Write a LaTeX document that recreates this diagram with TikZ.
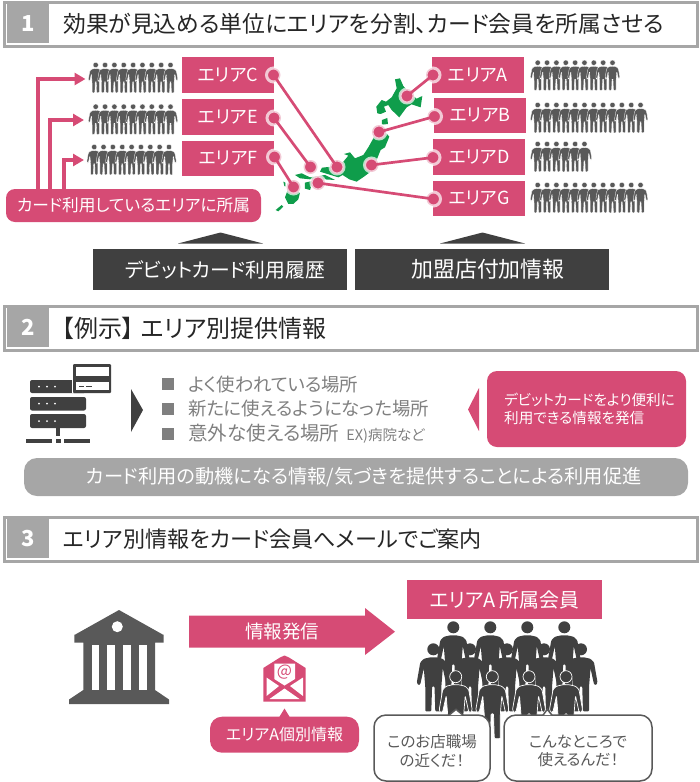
\documentclass[tikz,border=0pt]{standalone}
\usepackage{fontspec}
\setmainfont{Noto Sans CJK JP}[RawFeature=+palt]
\usepackage{xcolor}
\usepackage{tikz}
\usetikzlibrary{arrows.meta, positioning}

\definecolor{areaPink}{HTML}{D64B75}
\definecolor{mapGreen}{HTML}{0F9D4B}
\definecolor{barDark}{HTML}{404040}
\definecolor{iconGray}{HTML}{595959}
\definecolor{frameGray}{HTML}{A6A6A6}
\definecolor{textGray}{HTML}{7F7F7F}

\newcommand{\fsz}[1]{\fontsize{#1}{#1}\selectfont}
% Hàng người nhỏ: x đầu, y đầu, số người
\newcommand{\personrow}[3]{\foreach \i in {1,...,#3} \pic[fill=iconGray, draw=white, line width=.3pt, scale=.45] at ({#1+(\i-1)*9.35},#2) {person};}

\tikzset{
    person/.pic={
        \path[pic actions] (0,0) circle (6);
        \path[pic actions, rounded corners=1pt] (-3,8) -- (-9.5,9.5) -- (-13,13) -- (-16.5,33) -- (-15,36) -- (-13,35)
            -- (-9.5,19) -- (-8,38) -- (-8,62) -- (-2,62) -- (-1.2,37) -- (1.2,37) -- (2,62) -- (8,62) -- (8,38)
            -- (9.5,19) -- (13,35) -- (15,36) -- (16.5,33) -- (13,13) -- (9.5,9.5) -- (3,8) -- cycle;
    },
    headbox/.style={draw=frameGray, line width=3pt, minimum width=693pt, minimum height=44pt, inner sep=0pt},
    numbox/.style={fill=frameGray, text=white, minimum width=42pt, minimum height=39pt, inner sep=0pt, font=\fsz{22}\bfseries},
    headtext/.style={anchor=west, inner sep=0pt, text=black!85, font=\fsz{22.8}},
    areabox/.style={fill=areaPink, text=white, minimum width=92pt, minimum height=36pt, inner sep=0pt, font=\fsz{18}},
    mapdot/.style={circle, fill=areaPink, draw=white, draw opacity=.7, line width=3pt, minimum size=14pt, inner sep=0pt},
    mapline/.style={draw=areaPink, line width=2.7pt},
    belongarrow/.style={draw=areaPink, line width=4pt, -{Triangle[length=11pt, width=12pt]}},
    darkbar/.style={fill=barDark, text=white, minimum width=254pt, minimum height=41pt, inner sep=0pt},
    listmark/.style={fill=textGray, minimum size=12pt, inner sep=0pt},
    listtext/.style={anchor=west, inner sep=0pt, text=textGray, font=\fsz{18.4}},
    bubble/.style={draw=iconGray, line width=1.5pt, fill=white, rounded corners=12pt, inner sep=0pt, minimum height=66pt},
    bubbletext/.style={inner sep=0pt, text=iconGray, align=center, font=\fsz{15.5}},
}

\begin{document}
\begin{tikzpicture}[x=1pt, y=-1pt]
    \useasboundingbox (0,0) rectangle (700,782);

    % Tiêu đề 1
    \node[headbox] (head1) at (350.5,24) {};
    \node[numbox] (num1) at (28,23.5) {1};
    \node[headtext] (title1) at (63,24) {効果が見込める単位にエリアを分割、カード会員を所属させる};

    % Bản đồ
    \begin{scope}[shift={(260,60)}, scale=.3333, fill=mapGreen]
        \fill (405,58) -- (420,55) -- (430,78) -- (448,98) -- (470,116) -- (487,108) -- (482,142) -- (455,133) -- (440,142) -- (418,172) -- (395,150) -- (385,135) -- (372,140) -- (378,155) -- (362,162) -- (352,160) -- (349,140) -- (365,120) -- (378,125) -- (395,112) -- (410,85) -- cycle;
        \fill (366,180) -- (382,174) -- (384,192) -- (366,194) -- cycle;
        \fill (345,200) -- (365,205) -- (388,230) -- (375,262) -- (362,270) -- (345,312) -- (332,335) -- (312,350) -- (290,365) -- (268,358) -- (248,345) -- (235,352) -- (212,345) -- (180,335) -- (186,323) -- (215,320) -- (250,305) -- (265,287) -- (252,282) -- (270,277) -- (285,295) -- (310,285) -- (325,262) -- (340,235) -- cycle;
        \fill (105,345) -- (125,340) -- (150,352) -- (195,345) -- (225,360) -- (190,358) -- (150,358) -- (120,355) -- cycle;
        \fill (135,368) -- (160,362) -- (150,390) -- (135,386) -- cycle;
        \fill (85,385) -- (120,398) -- (115,418) -- (100,432) -- (85,432) -- (75,412) -- cycle;
        \fill (47,450) -- (65,435) -- (70,440) -- (55,454) -- cycle;
        \fill (70,365) -- (76,368) -- (78,380) -- (73,378) -- cycle;
    \end{scope}

    % Ô khu vực
    \node[areabox] (areaC) at (228,75) {エリアC};
    \node[areabox] (areaE) at (228,117) {エリアE};
    \node[areabox, minimum height=35pt] (areaF) at (228,158.5) {エリアF};
    \node[areabox] (areaA) at (478,75) {エリアA};
    \node[areabox, minimum height=35pt] (areaB) at (480,115.5) {エリアB};
    \node[areabox] (areaD) at (479,157) {エリアD};
    \node[areabox, minimum height=35pt] (areaG) at (479,198.5) {エリアG};

    % Chấm nối khu vực với bản đồ
    \node[mapdot] (dotC) at (273.5,75) {};
    \node[mapdot] (dotE) at (274,118) {};
    \node[mapdot] (dotF) at (274.5,157) {};
    \node[mapdot] (dotA) at (433,75) {};
    \node[mapdot] (dotB) at (434.5,116.5) {};
    \node[mapdot] (dotD) at (433,157.5) {};
    \node[mapdot] (dotG) at (433.5,199) {};
    \node[mapdot] (mapC) at (337,167) {};
    \node[mapdot] (mapE) at (310.5,167) {};
    \node[mapdot] (mapF) at (293.5,187) {};
    \node[mapdot] (mapG) at (318,183) {};
    \node[mapdot] (mapA) at (407,96) {};
    \node[mapdot] (mapB) at (379,132) {};
    \node[mapdot] (mapD) at (371.5,165) {};
    \draw[mapline] (dotC.center) -- (mapC.center);
    \draw[mapline] (dotE.center) -- (mapE.center);
    \draw[mapline] (dotF.center) -- (mapF.center);
    \draw[mapline] (dotA.center) -- (mapA.center);
    \draw[mapline] (dotB.center) -- (mapB.center);
    \draw[mapline] (dotD.center) -- (mapD.center);
    \draw[mapline] (dotG.center) -- (mapG.center);

    % Hàng người
    \personrow{95.7}{65}{9}
    \personrow{95.7}{106.7}{9}
    \personrow{94.2}{147}{9}
    \personrow{537.7}{62.7}{9}
    \personrow{537.7}{105}{12}
    \personrow{537.7}{144}{6}
    \personrow{537.7}{185}{12}

    % Nhãn thuộc khu vực
    \node[fill=areaPink, text=white, rounded corners=9pt, minimum width=255pt, minimum height=33pt, inner sep=0pt, font=\fsz{16.7}] (belong) at (133.5,205.5) {カード利用しているエリアに所属};
    \coordinate (tipC) at (85.5,79);
    \coordinate (tipE) at (84,120);
    \coordinate (tipF) at (84,160);
    \draw[belongarrow] (belong.north -| 38,0) |- (tipC);
    \draw[belongarrow] (belong.north -| 50,0) |- (tipE);
    \draw[belongarrow] (belong.north -| 64,0) |- (tipF);

    % Thanh tối
    \fill[barDark] (178,243.5) -- (220.5,232.5) -- (263,243.5) -- cycle;
    \fill[barDark] (440,243.5) -- (482.5,232.5) -- (525,243.5) -- cycle;
    \node[darkbar, font=\fsz{19.8}] (history) at (220,269.5) {\hspace*{10pt}デビットカード利用履歴};
    \node[darkbar, font=\fsz{21.9}] (shopinfo) at (482,269.5) {\hspace*{12pt}加盟店付加情報};

    % Tiêu đề 2
    \node[headbox] (head2) at (350.5,328) {};
    \node[numbox] (num2) at (28,327.5) {2};
    \node[headtext, font=\fsz{24}] (title2) at (62,328) {【例示】\hspace{7pt}エリア別提供情報};

    % Biểu tượng máy chủ
    \fill[barDark, rounded corners=2pt] (30,380) rectangle (86,393);
    \fill[barDark, rounded corners=2pt] (30,397) rectangle (86,410.5);
    \fill[barDark, rounded corners=2pt] (30,414) rectangle (86,428);
    \foreach \y in {386.5,403.5,421} {
        \foreach \x in {39,47,55} \fill[white] (\x,\y) circle (1);
    }
    \fill[white] (72,380) rectangle (86,393);
    \fill[barDark, rounded corners=1pt] (73,364) rectangle (111,393);
    \fill[white] (76,367) rectangle (109,376);
    \fill[white] (76,382) rectangle (109,390);
    \fill[barDark] (79,385.5) rectangle (84,387);
    \fill[barDark] (86,385.5) rectangle (92,387);
    \fill[barDark] (56,428) rectangle (60,436);
    \fill[barDark] (26,439) rectangle (52,443);
    \fill[barDark] (55.5,439) rectangle (60.5,443);
    \fill[barDark] (64,439) rectangle (90,443);
    \fill[barDark] (131,389) -- (143,410) -- (131,432) -- cycle;

    % Danh sách
    \node[listmark] (mark1) at (168,384) {};
    \node[listmark] (mark2) at (168,408.5) {};
    \node[listmark] (mark3) at (168,434) {};
    \node[listtext] (item1) at (188,384.5) {よく使われている場所};
    \node[listtext] (item2) at (188,409) {新たに使えるようになった場所};
    \node[listtext, font=\fsz{19.5}] (item3) at (188,434) {意外な使える場所\hspace{7pt}\fsz{14.5}EX)病院など};

    % Ô hồng và dải xám
    \fill[areaPink] (479,388) -- (468,409.5) -- (479,431) -- cycle;
    \node[fill=areaPink, text=white, rounded corners=10pt, minimum width=199pt, minimum height=76pt, inner sep=0pt, align=left, font=\fsz{14.6}] (sendbox) at (586.5,409) {\hspace*{6pt}デビットカードをより便利に\\[4pt]\hspace*{6pt}利用できる情報を発信};
    \node[fill=frameGray, text=white, rounded corners=13pt, minimum width=664pt, minimum height=38pt, inner sep=0pt, font=\fsz{19.2}] (promo) at (356,477) {\hspace*{16pt}カード利用の動機になる情報/気づきを提供することによる利用促進};

    % Tiêu đề 3
    \node[headbox] (head3) at (350.5,539) {};
    \node[numbox] (num3) at (28,538.5) {3};
    \node[headtext, font=\fsz{22.1}] (title3) at (63,539) {エリア別情報をカード会員へメールでご案内};

    % Ngân hàng
    \fill[iconGray] (119,610) -- (162.7,634.5) -- (163.7,634.5) -- (163.7,642.7) -- (155,642.7) -- (155,690) -- (169,699.5) -- (169,704) -- (69,704) -- (69,699.5) -- (83.3,690) -- (83.3,642.7) -- (74.3,642.7) -- (74.3,634.5) -- (75.3,634.5) -- cycle;
    \fill[white] (117.3,626.7) circle (5.5);
    \fill[white] (91.7,645) rectangle (99.3,690);
    \fill[white] (107.3,645) rectangle (115.3,690);
    \fill[white] (123.3,645) rectangle (130.7,690);
    \fill[white] (139,645) rectangle (146.7,690);

    % Mũi tên gửi thông tin
    \fill[areaPink] (189,615.7) -- (365,615.7) -- (365,608) -- (395,631.7) -- (365,655) -- (365,647.7) -- (189,647.7) -- cycle;
    \node[text=white, inner sep=0pt, font=\fsz{18.5}] (send) at (282,631.5) {情報発信};

    % Phong bì
    \fill[areaPink] (263.3,668) -- (280,657.5) -- (284.5,655.5) -- (289,657.5) -- (305.7,668) -- (305.7,701.7) -- (263.3,701.7) -- cycle;
    \fill[white] (274.3,663.5) -- (295,663.5) -- (295,679) -- (284.5,685.5) -- (274.3,679) -- cycle;
    \fill[white] (266.5,677.5) -- (279,686) -- (266.5,696) -- cycle;
    \fill[white] (303,677.5) -- (290,686) -- (303,696) -- cycle;
    \fill[white] (269.5,699) -- (284.5,688.5) -- (299.5,699) -- cycle;
    \node[text=areaPink, inner sep=0pt, font=\fsz{16}] (atmark) at (284.5,672) {@};

    % Nhãn mail
    \fill[areaPink] (284.5,708.5) -- (279,717.5) -- (290,717.5) -- cycle;
    \node[fill=areaPink, text=white, rounded corners=12pt, minimum width=149pt, minimum height=36pt, inner sep=0pt, font=\fsz{16}] (mailtag) at (284.5,734.7) {エリアA個別情報};

    % Nhóm hội viên
    \node[areabox, minimum width=195pt, minimum height=39pt, font=\fsz{19.9}] (members) at (504.5,599.5) {エリアA 所属会員};
    \foreach \x in {453.3,490.3,527.3,564.3} \pic[fill=barDark] at (\x,627.3) {person};
    \foreach \x in {433.3,470,507,544,581} \pic[fill=barDark] at (\x,649.3) {person};
    \foreach \x in {455.7,492.3,529,566} \pic[fill=barDark, draw=white, line width=.7pt] at (\x,676.7) {person};

    % Bong bóng lời nói
    \node[bubble, minimum width=116pt] (bubbleL) at (432,748) {};
    \node[bubble, minimum width=148pt] (bubbleR) at (578,748) {};
    \filldraw[draw=iconGray, fill=white, line width=1.5pt] (449,715.2) -- (456,709.3) -- (463,715.2);
    \filldraw[draw=iconGray, fill=white, line width=1.5pt] (543,715.2) -- (547.3,709.3) -- (552,715.2);
    \node[bubbletext] (talkL) at (432,751) {このお店職場\\[3pt]の近くだ！};
    \node[bubbletext] (talkR) at (578,751) {こんなところで\\[3pt]使えるんだ！};
\end{tikzpicture}
\end{document}
